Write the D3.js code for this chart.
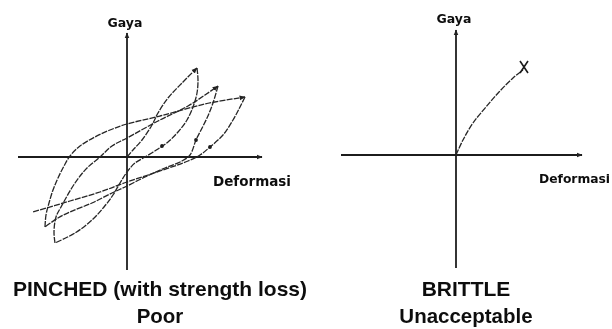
<!DOCTYPE html>
<html>
<head>
<meta charset="utf-8">
<script src="https://cdn.jsdelivr.net/npm/d3@7"></script>
<style>
  html, body { margin: 0; padding: 0; background: #fff; }
  svg { display: block; }
</style>
</head>
<body>
<svg id="chart" width="612" height="329"></svg>
<script>
// Pinched hysteresis: one continuous load path, split into branches (deformation, force)
const loadA   = [[0,0],[0.6,0.7],[1.5,1.7],[2.5,3.2],[3.1,4.4],[4.1,5.9],[5.5,7.4],[7.0,8.9]];
const unloadA = [[7.0,8.9],[7.1,7.7],[7.0,6.4],[6.6,5.0],[6.0,3.7],[5.1,2.5],[4.1,1.5],[3.1,0.8],[1.8,0],[0.8,-0.6],[0,-1.5],[-0.7,-2.6],[-1.4,-3.8],[-2.3,-5.0],[-3.5,-6.3],[-5.2,-7.6],[-7.2,-8.6]];
const loadB   = [[-7.2,-8.6],[-7.3,-7.5],[-7.1,-6.0],[-6.6,-5.0],[-5.2,-2.6],[-4.0,-1.1],[-2.7,0],[-1.5,1.1],[0,1.9],[3.1,3.6],[6.1,5.1],[7.8,6.2],[9.1,7.1]];
const unloadB = [[9.1,7.1],[8.6,5.4],[8.0,3.9],[7.3,2.5],[6.9,1.7],[6.3,0.2],[5.5,-0.4],[3.8,-1.1],[1.8,-2.0],[-0.2,-3.0],[-1.5,-3.6],[-3.5,-4.6],[-5.7,-5.5],[-6.9,-6.1],[-8.2,-7.0]];
const loadC   = [[-8.2,-7.0],[-8.1,-5.8],[-7.8,-4.6],[-7.4,-3.3],[-6.9,-2.1],[-6.3,-0.9],[-5.7,0.1],[-4.7,1.1],[-3.2,2.0],[-1.7,2.7],[0,3.3],[3.3,4.1],[7.8,5.3],[11.8,6.0]];
const unloadC = [[11.8,6.0],[11.3,5.0],[10.6,3.7],[9.6,2.2],[8.3,1.0],[7.3,0.2],[6.1,-0.4],[3.3,-1.4],[0,-2.5],[-2.7,-3.5],[-5.7,-4.4],[-9.4,-5.5]];
// direction marks on the unloading branches
const unloadMarks = [[3.5,1.1],[6.9,1.7],[8.3,1.0]];

// Brittle response: short curve ending at fracture
const brittle = [[0,0],[0.7,1.5],[1.7,3.2],[3.0,4.8],[4.3,6.3],[5.7,7.7],[6.7,8.5]];
const fracture = [6.8,8.8];

const axisLabels = { force: "Gaya", deformation: "Deformasi" };
const pinchedTitle = ["PINCHED (with strength loss)", "Poor"];
const brittleTitle = ["BRITTLE", "Unacceptable"];

const svg = d3.select("#chart");
const defs = svg.append("defs");
defs.append("filter").attr("id", "soft")
  .append("feGaussianBlur").attr("stdDeviation", 0.45);
defs.append("marker")
  .attr("id", "tip").attr("viewBox", "0 0 10 10")
  .attr("refX", 9).attr("refY", 5)
  .attr("markerWidth", 6).attr("markerHeight", 6)
  .attr("markerUnits", "userSpaceOnUse")
  .attr("orient", "auto")
  .append("path").attr("d", "M0,1 L10,5 L0,9 Z").attr("fill", "#222");

const root = svg.append("g").attr("filter", "url(#soft)");
const ink = "#262626";

function drawAxes(g, x, y, labelY, defX, defY, defAnchor, defSize) {
  const [x0, x1] = x.range();
  const [y0, y1] = y.range();
  g.append("line")
    .attr("x1", x0).attr("x2", x1).attr("y1", y(0)).attr("y2", y(0))
    .attr("stroke", "#1c1c1c").attr("stroke-width", 1.8)
    .attr("marker-end", "url(#tip)");
  g.append("line")
    .attr("x1", x(0)).attr("x2", x(0)).attr("y1", y0).attr("y2", y1)
    .attr("stroke", "#1c1c1c").attr("stroke-width", 1.8)
    .attr("marker-end", "url(#tip)");
  g.append("text")
    .attr("x", x(0) - 2).attr("y", labelY)
    .attr("text-anchor", "middle")
    .attr("font-family", "DejaVu Sans, sans-serif").attr("font-weight", "bold")
    .attr("font-size", 12.5).attr("fill", "#111")
    .text(axisLabels.force);
  g.append("text")
    .attr("x", defX).attr("y", defY)
    .attr("text-anchor", defAnchor)
    .attr("font-family", "DejaVu Sans, sans-serif").attr("font-weight", "bold")
    .attr("font-size", defSize).attr("fill", "#111")
    .text(axisLabels.deformation);
}

function drawTitle(g, cx, lines) {
  g.append("text").attr("x", cx).attr("y", 296)
    .attr("text-anchor", "middle")
    .attr("font-family", "Liberation Sans, Arial, sans-serif").attr("font-weight", "bold")
    .attr("font-size", 21).attr("fill", "#111")
    .text(lines[0]);
  g.append("text").attr("x", cx).attr("y", 323)
    .attr("text-anchor", "middle")
    .attr("font-family", "Liberation Sans, Arial, sans-serif").attr("font-weight", "bold")
    .attr("font-size", 20.5).attr("fill", "#111")
    .text(lines[1]);
}

// ---- Left panel: pinched hysteresis ----
const xL = d3.scaleLinear().domain([-10.9, 13.5]).range([18, 262]);
const yL = d3.scaleLinear().domain([-11.3, 12.4]).range([270, 33]);
const gL = root.append("g");
drawAxes(gL, xL, yL, 27, 252, 186, "middle", 13.5);

const lineL = d3.line().x(d => xL(d[0])).y(d => yL(d[1])).curve(d3.curveCatmullRom.alpha(0.5));
const branches = [
  { pts: loadA, tip: true }, { pts: unloadA, tip: false },
  { pts: loadB, tip: true }, { pts: unloadB, tip: false },
  { pts: loadC, tip: true }, { pts: unloadC, tip: false }
];
gL.selectAll("path.branch").data(branches).join("path")
  .attr("class", "branch")
  .attr("d", d => lineL(d.pts))
  .attr("fill", "none").attr("stroke", ink).attr("stroke-width", 1.3)
  .attr("stroke-dasharray", "6 1.2")
  .attr("marker-end", d => d.tip ? "url(#tip)" : null);
gL.selectAll("circle.mark").data(unloadMarks).join("circle")
  .attr("class", "mark")
  .attr("cx", d => xL(d[0])).attr("cy", d => yL(d[1])).attr("r", 1.9)
  .attr("fill", "#1a1a1a");
drawTitle(gL, 160, pinchedTitle);

// ---- Right panel: brittle ----
const xR = d3.scaleLinear().domain([-11.5, 12.6]).range([341, 582]);
const yR = d3.scaleLinear().domain([-11.3, 12.5]).range([268, 30]);
const gR = root.append("g");
drawAxes(gR, xR, yR, 23, 539, 183, "start", 12.3);

const lineR = d3.line().x(d => xR(d[0])).y(d => yR(d[1])).curve(d3.curveCatmullRom.alpha(0.5));
gR.append("path").attr("d", lineR(brittle))
  .attr("fill", "none").attr("stroke", ink).attr("stroke-width", 1.3)
  .attr("stroke-dasharray", "6 1.2");
const fx = xR(fracture[0]), fy = yR(fracture[1]);
gR.append("path")
  .attr("d", `M${fx - 4},${fy - 6} L${fx + 4},${fy + 6} M${fx + 4},${fy - 6} L${fx - 4},${fy + 6}`)
  .attr("stroke", "#1a1a1a").attr("stroke-width", 1.6).attr("fill", "none");
drawTitle(gR, 466, brittleTitle);
</script>
</body>
</html>
